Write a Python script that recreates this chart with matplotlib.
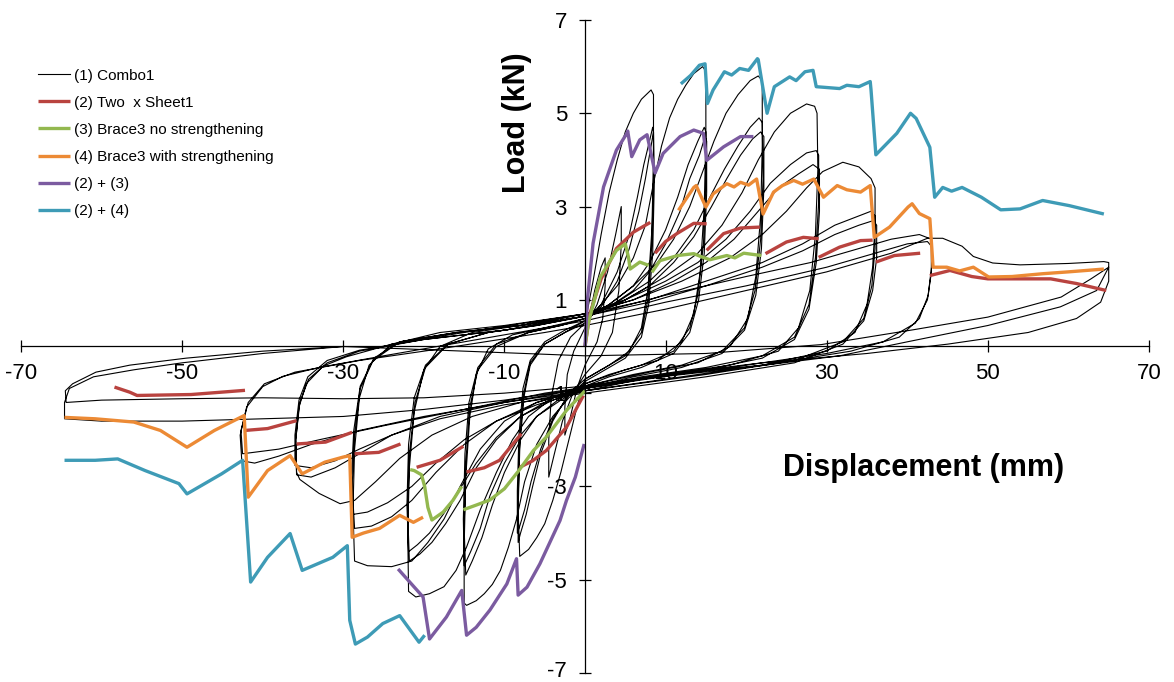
import numpy as np
import matplotlib
matplotlib.use("Agg")
import matplotlib.pyplot as plt
import matplotlib.transforms as mtransforms

# ---- data ----
# (1) Combo1 : one continuous hysteresis path, split by displacement amplitude
combo1_initial = [
    (0, 0), (0.5, 0.6), (1.2, 1.2), (2, 1.7), (2.5, 1.9),
    (2.5, 1.3), (2.2, 0.6), (1.5, 0.1), (0, -0.4), (-1, -0.9), (-1.8, -1.5), (-2.5, -1.9),
    (-2.5, -1.3), (-2.2, -0.6), (-1.4, -0.1), (0, 0.4), (1.5, 0.9), (2.8, 1.6), (3.8, 2.4), (4.5, 3.0),
    (4.5, 2.2), (4.2, 1.2), (3.4, 0.3), (2, -0.2), (0, -0.6), (-1.5, -1.0), (-2.8, -1.6), (-3.8, -2.3), (-4.5, -2.8),
    (-4.5, -2.0), (-4.2, -1.1), (-3.3, -0.3), (-1.8, 0.2), (0, 0.5),
]
combo1_amp8 = [
    (1, 1.4), (2, 2.4), (3, 3.3), (4, 4.0), (5, 4.6), (6, 5.0), (7, 5.3), (8.2, 5.5), (8.5, 5.4),
    (8.5, 4.0), (8.3, 2.5), (7.8, 1.2), (7, 0.4), (5.5, -0.1), (3, -0.4), (0, -0.7),
    (-1, -1.3), (-2, -2.0), (-3, -2.7), (-4, -3.3), (-5, -3.8), (-6, -4.1), (-7, -4.35), (-8.1, -4.5),
    (-8.3, -3.5), (-8.1, -2.2), (-7.6, -1.1), (-6.8, -0.4), (-5, 0.05), (-2.5, 0.3), (0, 0.5),
    (2, 0.9), (4, 1.6), (5.5, 2.4), (6.5, 3.2), (7.3, 3.9), (8, 4.4), (8.4, 4.7), (8.5, 4.6),
    (8.5, 3.6), (8.3, 2.2), (7.8, 1.0), (7, 0.3), (5, -0.2), (2.5, -0.45), (0, -0.7),
    (-2, -1.0), (-4, -1.6), (-5.5, -2.3), (-6.5, -3.0), (-7.3, -3.6), (-8, -4.0), (-8.3, -4.2),
    (-8.3, -3.3), (-8.1, -2.0), (-7.6, -1.0), (-6.8, -0.35), (-5, 0.05), (-2.5, 0.3), (0, 0.55),
    (2, 0.85), (4, 1.4), (5.5, 2.1), (6.7, 2.9), (7.5, 3.6), (8.1, 4.2), (8.5, 4.6),
    (8.6, 3.5), (8.4, 2.0), (7.9, 0.9), (7, 0.2), (5, -0.25), (2.5, -0.5), (0, -0.75),
    (-2, -1.05), (-4, -1.55), (-5.5, -2.2), (-6.7, -2.9), (-7.5, -3.5), (-8.1, -3.85), (-8.4, -4.0),
    (-8.4, -3.1), (-8.2, -1.9), (-7.7, -0.9), (-6.8, -0.3), (-5, 0.1), (-2.5, 0.35), (0, 0.55),
]
combo1_amp15 = [
    (2, 0.9), (4, 1.3), (6, 1.9), (7.5, 2.6), (8.5, 3.5), (9.5, 4.3), (10.5, 4.9), (11.5, 5.3),
    (12.5, 5.6), (13.5, 5.85), (14.6, 6.0), (15, 5.9),
    (15, 4.5), (14.8, 3.0), (14.3, 1.6), (13.5, 0.7), (12, 0.1), (9, -0.3), (5, -0.5), (0, -0.8),
    (-2, -1.1), (-4, -1.5), (-6, -2.1), (-7.5, -2.9), (-8.5, -3.7), (-9.5, -4.3), (-10.5, -4.8),
    (-11.5, -5.1), (-12.5, -5.3), (-13.5, -5.45), (-14.7, -5.55), (-15, -5.5),
    (-15, -4.3), (-14.8, -2.8), (-14.3, -1.5), (-13.5, -0.6), (-12, -0.05), (-9, 0.25), (-5, 0.4), (0, 0.6),
    (3, 0.9), (6, 1.3), (8, 1.8), (10, 2.5), (11.5, 3.2), (12.8, 3.9), (14, 4.4), (14.8, 4.7), (15, 4.6),
    (15, 3.5), (14.7, 2.2), (14, 1.1), (13, 0.4), (11, -0.1), (7, -0.4), (3, -0.6), (0, -0.8),
    (-3, -1.1), (-6, -1.5), (-8, -2.0), (-10, -2.7), (-11.5, -3.4), (-12.8, -4.1), (-14, -4.6), (-14.8, -4.9),
    (-15, -3.9), (-14.8, -2.5), (-14.3, -1.3), (-13.3, -0.5), (-11, 0.0), (-7, 0.3), (-3, 0.45), (0, 0.6),
    (3, 0.85), (6, 1.2), (8, 1.6), (10, 2.2), (11.8, 2.9), (13, 3.6), (14.2, 4.1), (14.9, 4.5), (15.1, 4.4),
    (15.1, 3.3), (14.8, 2.0), (14.1, 1.0), (13, 0.3), (11, -0.15), (7, -0.45), (3, -0.65), (0, -0.85),
    (-3, -1.15), (-6, -1.5), (-8, -1.9), (-10, -2.5), (-11.8, -3.2), (-13, -3.9), (-14.2, -4.4), (-15, -4.7),
    (-15.1, -3.7), (-14.9, -2.3), (-14.4, -1.2), (-13.3, -0.45), (-11, 0.05), (-7, 0.3), (-3, 0.45), (0, 0.6),
]
combo1_amp22 = [
    (3, 0.9), (6, 1.3), (9, 1.8), (11, 2.3), (13, 3.0), (14.5, 3.7), (16, 4.4), (17.5, 5.0),
    (19, 5.4), (20.5, 5.7), (21.5, 5.8), (22, 5.7),
    (22, 4.3), (21.8, 2.8), (21.2, 1.5), (20.2, 0.6), (18, 0.0), (14, -0.35), (8, -0.55), (0, -0.85),
    (-4, -1.1), (-7, -1.5), (-9, -2.0), (-11, -2.7), (-13, -3.5), (-14.7, -4.3), (-16, -4.8),
    (-17.5, -5.15), (-19.3, -5.3), (-21, -5.37), (-21.9, -5.25),
    (-22, -4.0), (-21.8, -2.6), (-21.2, -1.4), (-20, -0.5), (-18, 0.0), (-14, 0.3), (-8, 0.45), (0, 0.65),
    (4, 0.95), (8, 1.4), (11, 1.9), (13.5, 2.5), (15.5, 3.2), (17.3, 3.8), (19, 4.3), (20.5, 4.7), (21.6, 4.9), (22, 4.8),
    (22.1, 3.6), (21.8, 2.3), (21.1, 1.2), (19.8, 0.4), (17, -0.1), (12, -0.4), (6, -0.6), (0, -0.85),
    (-4, -1.1), (-8, -1.5), (-11, -2.0), (-13.5, -2.6), (-15.5, -3.3), (-17.3, -3.8), (-19, -4.2), (-20.5, -4.45), (-21.8, -4.6),
    (-22, -3.6), (-21.8, -2.3), (-21.1, -1.2), (-19.8, -0.45), (-17, 0.05), (-12, 0.3), (-6, 0.45), (0, 0.65),
    (4, 0.9), (8, 1.3), (11, 1.8), (13.5, 2.35), (15.7, 3.0), (17.6, 3.6), (19.3, 4.1), (20.8, 4.45), (21.8, 4.6), (22.2, 4.5),
    (22.2, 3.4), (21.9, 2.1), (21.2, 1.1), (19.8, 0.35), (17, -0.15), (12, -0.45), (6, -0.65), (0, -0.9),
    (-4, -1.15), (-8, -1.5), (-11, -1.95), (-13.5, -2.5), (-15.7, -3.1), (-17.6, -3.6), (-19.3, -4.0), (-20.8, -4.25), (-21.9, -4.4),
    (-22.1, -3.4), (-21.9, -2.1), (-21.2, -1.1), (-19.8, -0.4), (-17, 0.05), (-12, 0.3), (-6, 0.45), (0, 0.65),
]
combo1_amp29 = [
    (5, 1.0), (10, 1.5), (14, 2.0), (17, 2.6), (19.5, 3.3), (21.5, 4.0), (23.5, 4.6), (25.5, 5.0),
    (27.5, 5.2), (28.5, 5.15), (28.8, 5.0),
    (28.9, 3.8), (28.6, 2.4), (27.9, 1.2), (26.5, 0.4), (24, -0.1), (18, -0.4), (10, -0.6), (0, -0.9),
    (-6, -1.2), (-10, -1.6), (-13, -2.2), (-15.5, -3.0), (-17.5, -3.7), (-19.5, -4.2), (-21.5, -4.6),
    (-24, -4.72), (-27, -4.7), (-28.6, -4.6),
    (-28.8, -3.5), (-28.6, -2.2), (-28, -1.1), (-26.8, -0.4), (-24, 0.05), (-18, 0.3), (-10, 0.45), (0, 0.7),
    (5, 1.0), (10, 1.4), (14, 1.8), (17.5, 2.3), (20.5, 2.9), (23, 3.5), (25.5, 3.9), (27.5, 4.15), (28.7, 4.2), (29, 4.1),
    (29, 3.1), (28.6, 1.9), (27.8, 0.9), (26, 0.2), (22, -0.2), (15, -0.45), (7, -0.65), (0, -0.9),
    (-6, -1.2), (-11, -1.6), (-15, -2.1), (-18.5, -2.7), (-21.5, -3.3), (-24, -3.65), (-26.5, -3.85), (-28.6, -3.9),
    (-28.9, -3.0), (-28.6, -1.9), (-27.9, -0.9), (-26.3, -0.3), (-23, 0.1), (-16, 0.3), (-8, 0.45), (0, 0.7),
    (6, 1.0), (11, 1.4), (15, 1.8), (18.5, 2.3), (21.5, 2.9), (24, 3.4), (26.5, 3.7), (28.3, 3.9), (29.1, 3.8),
    (29.1, 2.9), (28.7, 1.8), (27.8, 0.8), (26, 0.15), (22, -0.25), (15, -0.5), (7, -0.7), (0, -0.95),
    (-6, -1.25), (-11, -1.6), (-15, -2.0), (-18.5, -2.5), (-21.5, -3.0), (-24.5, -3.35), (-27, -3.55), (-28.8, -3.6),
    (-29, -2.8), (-28.7, -1.8), (-27.9, -0.85), (-26.2, -0.25), (-23, 0.1), (-16, 0.3), (-8, 0.45), (0, 0.7),
]
combo1_amp36 = [
    (6, 1.0), (12, 1.4), (18, 1.9), (22, 2.4), (25, 2.9), (27.5, 3.4), (29.5, 3.75), (32, 3.95),
    (34, 3.85), (35.5, 3.6), (36, 3.4),
    (36, 2.6), (35.7, 1.7), (35, 0.9), (33.5, 0.3), (30, -0.1), (22, -0.4), (12, -0.65), (0, -0.95),
    (-8, -1.2), (-14, -1.5), (-19, -1.9), (-23, -2.4), (-26, -2.9), (-28.6, -3.3), (-30.4, -3.37),
    (-33, -3.15), (-35.4, -2.85), (-35.8, -2.7),
    (-35.9, -2.0), (-35.5, -1.3), (-34.6, -0.8), (-32.5, -0.42), (-29.6, -0.22), (-24, 0.05), (-15, 0.3), (0, 0.7),
    (8, 1.0), (15, 1.4), (22, 1.8), (27, 2.2), (31, 2.6), (34, 2.8), (35.5, 2.9), (36, 2.8),
    (36, 2.1), (35.6, 1.3), (34.6, 0.6), (32, 0.1), (26, -0.3), (15, -0.6), (0, -0.95),
    (-10, -1.2), (-18, -1.5), (-24, -1.9), (-28, -2.3), (-31, -2.6), (-34, -2.8), (-35.8, -2.75),
    (-35.9, -2.0), (-35.4, -1.2), (-34.3, -0.7), (-32, -0.35), (-28, -0.1), (-20, 0.15), (-10, 0.35), (0, 0.65),
    (8, 0.95), (15, 1.3), (22, 1.7), (27, 2.05), (31, 2.4), (34, 2.6), (35.8, 2.7), (36.2, 2.6),
    (36.2, 1.9), (35.7, 1.2), (34.6, 0.55), (32, 0.05), (26, -0.35), (15, -0.65), (0, -1.0),
    (-10, -1.25), (-18, -1.55), (-24, -1.9), (-28, -2.2), (-31, -2.45), (-34, -2.6), (-36, -2.55),
    (-36, -1.9), (-35.5, -1.15), (-34.4, -0.65), (-32, -0.3), (-28, -0.08), (-20, 0.15), (-10, 0.35), (0, 0.65),
]
combo1_amp43 = [
    (10, 1.1), (20, 1.5), (28, 1.8), (34, 2.1), (38, 2.3), (41.5, 2.4), (43, 2.3),
    (43, 1.7), (42.6, 1.1), (41.5, 0.6), (39, 0.2), (33, -0.1), (22, -0.4), (10, -0.6), (0, -0.9),
    (-10, -1.2), (-20, -1.5), (-28, -1.8), (-34, -2.1), (-38, -2.35), (-41, -2.5), (-42.6, -2.45),
    (-42.8, -1.9), (-42, -1.3), (-40, -0.86), (-37.5, -0.64), (-33, -0.45), (-25, -0.2), (-15, 0.1), (0, 0.55),
    (10, 0.95), (20, 1.3), (30, 1.7), (36, 2.0), (40, 2.2), (42.5, 2.25), (43, 2.15),
    (43, 1.6), (42.5, 1.0), (41, 0.5), (37, 0.1), (30, -0.15), (18, -0.45), (5, -0.75),
    (-5, -1.0), (-15, -1.35), (-25, -1.7), (-33, -2.0), (-38, -2.2), (-42.5, -2.3),
    (-42.7, -1.8), (-41.8, -1.2), (-39.8, -0.8), (-36, -0.55), (-28, -0.3), (-18, -0.05), (-5, 0.3), (0, 0.45),
]
combo1_amp65 = [
    (10, 0.8), (20, 1.2), (30, 1.6), (38, 2.0), (42.5, 2.32), (44.4, 2.32), (46.8, 2.15), (48.2, 1.93),
    (50.6, 1.79), (54, 1.75), (60, 1.78), (64.4, 1.82), (65, 1.8),
    (65, 1.4), (64, 0.95), (61, 0.6), (55, 0.3), (45, 0.05), (35, -0.15), (22, -0.35), (10, -0.6), (0, -0.85),
    (-10, -1.0), (-20, -1.1), (-30, -1.12), (-40, -1.1), (-50, -1.12), (-60, -1.15), (-64.4, -1.2),
    (-64.5, -0.95), (-63.6, -0.8), (-60.7, -0.55), (-56.5, -0.4), (-49.5, -0.25), (-40, -0.1), (-30, 0.0),
    (-15, -0.1), (0, -0.2), (15, -0.15), (29.3, 0.04), (40.8, 0.36), (50, 0.63), (59.1, 1.06), (62.8, 1.45), (65, 1.7),
    (63.5, 1.2), (59, 0.85), (50, 0.45), (40, 0.1), (31.6, -0.2), (20, -0.45), (10, -0.64), (0, -0.9),
    (-10, -1.15), (-20, -1.35), (-30, -1.5), (-40, -1.55), (-50, -1.6), (-60, -1.6), (-64.6, -1.55),
    (-64.6, -1.2), (-64, -0.9), (-61, -0.65), (-56, -0.5), (-50, -0.35), (-40, -0.15), (-30, 0.0),
]

# (2) Two x Sheet1 : separate branches
sheet1_segments = [
    [(0, 0), (0.6, 0.7), (2, 1.45), (3.9, 2.1), (6, 2.45), (8.1, 2.66)],
    [(8.7, 2.0), (10, 2.25), (11.4, 2.42), (13.5, 2.64), (15.1, 2.63)],
    [(15.1, 2.06), (17.2, 2.42), (19.3, 2.54), (21.7, 2.56)],
    [(22.4, 1.99), (25, 2.24), (27.1, 2.34), (29, 2.31)],
    [(29, 1.91), (31.6, 2.13), (34.2, 2.27), (35.7, 2.28)],
    [(36.1, 1.81), (38.4, 1.95), (41.6, 2.0)],
    [(42.8, 1.52), (45.3, 1.63), (48, 1.5), (50, 1.45), (54, 1.45), (57.8, 1.45), (61, 1.35), (64.7, 1.2)],
    [(-0.2, -1.05), (-2.3, -1.73), (-4.8, -2.23), (-6.5, -2.45), (-8.1, -2.59)],
    [(-7.9, -1.87), (-10.6, -2.44), (-12.5, -2.6), (-14.7, -2.69)],
    [(-15.1, -2.14), (-18, -2.44), (-20.9, -2.59)],
    [(-22.9, -2.09), (-25.6, -2.27), (-28.6, -2.3)],
    [(-28.9, -1.84), (-32.2, -2.05), (-35.8, -2.09)],
    [(-35.8, -1.59), (-39.4, -1.76), (-42.2, -1.8)],
    [(-42.2, -0.94), (-48.9, -1.03), (-55.6, -1.05), (-56.5, -0.98), (-58.4, -0.87)],
]

# (3) Brace3 no strengthening
brace3_segments = [
    [(0, 0), (0.4, 0.49), (1.9, 1.49), (3.9, 2.06), (5.0, 2.2), (5.4, 1.91), (5.6, 1.66), (6.8, 1.81), (7.9, 1.74)],
    [(8.3, 1.59), (9.3, 1.84), (11.5, 1.95), (13.5, 1.99), (14.5, 1.92), (15.5, 1.86), (17.6, 1.95),
     (18.6, 1.9), (19.7, 2.0), (21.9, 1.95)],
    [(0, -0.95), (-2.3, -1.37), (-4.8, -1.94), (-6.4, -2.23), (-8.3, -2.68), (-10, -3.05), (-11.8, -3.29),
     (-13.5, -3.4), (-15.1, -3.5)],
    [(-15.3, -3.0), (-16.4, -3.3), (-17.6, -3.55), (-19.0, -3.72), (-19.5, -3.45), (-19.9, -3.0),
     (-20.3, -2.75), (-21.2, -2.66), (-21.7, -2.64)],
]

# (4) Brace3 with strengthening
brace3s_segments = [
    [(11.6, 2.92), (13.5, 3.41), (13.8, 3.45), (15.0, 2.99), (15.9, 3.27), (17.6, 3.49), (18.5, 3.42),
     (19.3, 3.52), (20.3, 3.46), (21.3, 3.59), (22.1, 2.84), (23.4, 3.31), (24.5, 3.45), (25.9, 3.56),
     (27, 3.48), (28.4, 3.59), (29.6, 3.2), (31.3, 3.45), (32.5, 3.36), (34.2, 3.31), (35.4, 3.45),
     (35.9, 2.34), (37.8, 2.56), (40.1, 2.99), (40.6, 3.06), (41.5, 2.85), (42.8, 2.74),
     (43.2, 1.7), (44.9, 1.7), (46.5, 1.62), (48.2, 1.7), (50.1, 1.49), (53, 1.5), (56.8, 1.56),
     (60, 1.6), (64.4, 1.66)],
    [(-20.1, -3.66), (-21.3, -3.77), (-23, -3.62), (-25.5, -3.9), (-27.5, -4.0), (-28.9, -4.09),
     (-29.2, -2.34), (-30, -2.37), (-32.3, -2.48), (-35.1, -2.73), (-36.6, -2.34), (-39.4, -2.66),
     (-41.8, -3.23), (-42.3, -1.48), (-46, -1.8), (-49.4, -2.16), (-52.7, -1.8), (-56, -1.62),
     (-60.8, -1.55), (-64.6, -1.52)],
]

# (2) + (3)
sum23_segments = [
    [(0, 0), (0.3, 1.0), (1.0, 2.21), (2.3, 3.42), (3.9, 4.21), (5.2, 4.57), (5.3, 4.62), (5.8, 4.07),
     (6.8, 4.43), (7.7, 4.54), (8.7, 3.72), (9.7, 4.14), (11.8, 4.5), (13.5, 4.64), (14.7, 4.57),
     (15.1, 3.99), (17.2, 4.28), (19.3, 4.5), (20.9, 4.5)],
    [(-0.1, -2.09), (-1.2, -2.8), (-2.3, -3.3), (-3.1, -3.73), (-5.6, -4.66), (-7.2, -5.16), (-8.3, -5.33),
     (-8.5, -4.55), (-9.7, -5.09), (-11.8, -5.65), (-13.5, -6.02), (-14.7, -6.19), (-15.3, -5.23),
     (-17.2, -5.8), (-19.3, -6.27), (-20.1, -5.37), (-23.2, -4.77)],
]

# (2) + (4)
sum24_segments = [
    [(11.9, 5.63), (13.1, 5.81), (14.2, 6.03), (14.9, 6.06), (15.2, 5.21), (15.9, 5.5), (17.3, 5.89),
     (18.2, 5.82), (19.2, 5.96), (20.3, 5.92), (21.4, 6.17), (21.5, 6.15), (22.6, 5.0), (23.5, 5.57),
     (25.4, 5.78), (26.2, 5.7), (27.3, 5.89), (28.3, 5.92), (28.7, 5.57), (31.6, 5.53), (32.5, 5.6),
     (34.0, 5.57), (35.4, 5.68), (35.5, 5.5), (36.1, 4.11), (38.7, 4.57), (40.4, 5.0), (41.1, 4.89),
     (42.8, 4.27), (43.4, 3.2), (44.4, 3.41), (45.5, 3.33), (46.8, 3.41), (49.2, 3.2), (51.6, 2.93),
     (54, 2.95), (56.8, 3.13), (60.1, 3.02), (64.4, 2.84)],
    [(-19.9, -6.19), (-20.6, -6.34), (-23, -5.77), (-25.1, -5.94), (-27, -6.23), (-28.5, -6.38),
     (-29.2, -5.87), (-29.5, -4.27), (-31.3, -4.52), (-33.2, -4.66), (-35.1, -4.8), (-36.6, -4.01),
     (-39.4, -4.52), (-41.5, -5.05), (-42.5, -2.44), (-45.1, -2.73), (-49.4, -3.16), (-50.4, -2.94),
     (-54.6, -2.66), (-58, -2.41), (-60.8, -2.44), (-64.6, -2.44)],
]

series_labels = ['(1) Combo1', '(2) Two  x Sheet1', '(3) Brace3 no strengthening',
                 '(4) Brace3 with strengthening', '(2) + (3)', '(2) + (4)']
x_ticks = [-70, -50, -30, -10, 10, 30, 50, 70]
y_ticks = [-7, -5, -3, -1, 1, 3, 5, 7]


def join_segments(segments):
    xs, ys = [], []
    for seg in segments:
        arr = np.array(seg, dtype=float)
        xs.extend(arr[:, 0]); ys.extend(arr[:, 1])
        xs.append(np.nan); ys.append(np.nan)
    return np.array(xs), np.array(ys)


plt.rcParams['font.family'] = ['Liberation Sans', 'DejaVu Sans']
plt.rcParams['axes.unicode_minus'] = False

fig = plt.figure(figsize=(11.74, 6.82), dpi=100)
ax = fig.add_axes([0.0179, 0.0132, 0.9608, 0.9575])

combo = np.array(combo1_initial + combo1_amp8 + combo1_amp15 + combo1_amp22 +
                 combo1_amp29 + combo1_amp36 + combo1_amp43 + combo1_amp65)
ax.plot(combo[:, 0], combo[:, 1], color='black', linewidth=0.8, label=series_labels[0])

colors = ['#B9433F', '#93B84F', '#EC8A35', '#7B5BA0', '#3E9BB6']
for segs, col, lab in zip([sheet1_segments, brace3_segments, brace3s_segments,
                           sum23_segments, sum24_segments], colors, series_labels[1:]):
    sx, sy = join_segments(segs)
    ax.plot(sx, sy, color=col, linewidth=2.4, label=lab, solid_capstyle='butt')

# axes through the origin
ax.set_xlim(-70, 70)
ax.set_ylim(-7, 7)
ax.spines['left'].set_position(('data', 0))
ax.spines['bottom'].set_position(('data', 0))
ax.spines['top'].set_visible(False)
ax.spines['right'].set_visible(False)
for s in ('left', 'bottom'):
    ax.spines[s].set_linewidth(0.9)
ax.set_xticks(x_ticks)
ax.set_yticks(y_ticks)
ax.set_xticklabels([str(v) for v in x_ticks])
ax.set_yticklabels([str(v) for v in y_ticks])
ax.tick_params(axis='both', direction='inout', length=8, width=0.9, labelsize=16)
ax.tick_params(axis='x', pad=8)
ax.tick_params(axis='y', pad=9)
ax.set_axisbelow(True)

# keep the lowest y label inside the canvas
bottom_label = ax.get_yticklabels()[0]
bottom_label.set_transform(bottom_label.get_transform() +
                           mtransforms.ScaledTranslation(0, 3 / 72, fig.dpi_scale_trans))

ax.text(-8.4, 4.8, 'Load (kN)', rotation=90, fontsize=22, fontweight='bold',
        ha='center', va='center')
ax.text(42, -2.6, 'Displacement (mm)', fontsize=22, fontweight='bold',
        ha='center', va='center')

legend = ax.legend(loc='upper left', bbox_to_anchor=(0.01, 0.935), frameon=False,
                   fontsize=11, handlelength=2.1, handletextpad=0.2, labelspacing=0.86,
                   borderaxespad=0)

fig.savefig('out.png', dpi=100)
